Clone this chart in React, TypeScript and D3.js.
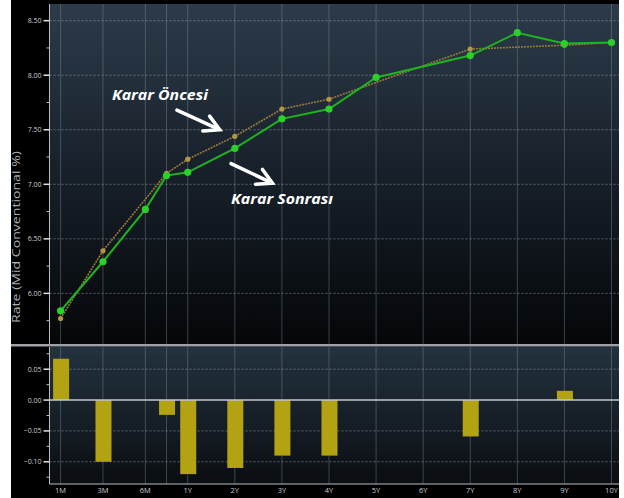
import { useEffect } from 'react'
import * as d3 from 'd3'

// curve tenors (9M has a point but no label)
const tenors = ['1M', '3M', '6M', '9M', '1Y', '2Y', '3Y', '4Y', '5Y', '6Y', '7Y', '8Y', '9Y', '10Y']
const tickLabels = ['1M', '3M', '6M', '1Y', '2Y', '3Y', '4Y', '5Y', '6Y', '7Y', '8Y', '9Y', '10Y']

// Karar Sonrası (after the decision)
const afterValues: (number | null)[] = [5.84, 6.29, 6.77, 7.08, 7.11, 7.33, 7.6, 7.69, 7.98, null, 8.18, 8.39, 8.29, 8.3]
// Karar Öncesi (before the decision)
const beforeValues: (number | null)[] = [5.77, 6.39, null, 7.1, 7.23, 7.44, 7.69, 7.78, null, null, 8.24, null, 8.275, 8.3]
// change panel
const changeValues: (number | null)[] = [0.067, -0.1, null, -0.024, -0.12, -0.11, -0.09, -0.09, null, null, -0.059, null, 0.015, null]

const rateTicks = [6.0, 6.5, 7.0, 7.5, 8.0, 8.5]
const rateMinor = [5.75, 6.25, 6.75, 7.25, 7.75, 8.25]
const changeTicks = [-0.1, -0.05, 0, 0.05]
const changeMinor = [-0.125, -0.075, -0.025, 0.025, 0.075]

const W = 624
const H = 498
const frameLeft = 11
const frameRight = 619
const axisX = 49.5
const topPanel = { top: 4, bottom: 344 }
const botPanel = { top: 347, bottom: 484 }

// month tenors sit a little closer together than the yearly ones
const SHORT_STEP = 0.9
const tickSlot = tickLabels.map((_, i) => (i <= 3 ? i * SHORT_STEP : 3 * SHORT_STEP + (i - 3)))
function slotOf(t: string) {
  const i = tickLabels.indexOf(t)
  if (i >= 0) return tickSlot[i]
  const k = tenors.indexOf(t)
  return (slotOf(tenors[k - 1]) + slotOf(tenors[k + 1])) / 2
}

const x = d3.scaleLinear().domain([0, tickSlot[tickSlot.length - 1]]).range([60.6, 611.5])
const y = d3.scaleLinear().domain([5.536, 8.653]).range([topPanel.bottom, topPanel.top])
const yc = d3.scaleLinear().domain([-0.136, 0.086]).range([botPanel.bottom, botPanel.top])

type Pt = { t: string; v: number }
const toPts = (vals: (number | null)[]): Pt[] =>
  tenors.map((t, i) => ({ t, v: vals[i] as number })).filter(d => d.v != null)

const line = d3
  .line<Pt>()
  .x(d => x(slotOf(d.t)))
  .y(d => y(d.v))

const afterPts = toPts(afterValues)
const beforePts = toPts(beforeValues)
const changePts = toPts(changeValues)

// annotations placed in data space
const notes = [
  { text: 'Karar Öncesi', tx: 1.09, tv: 7.77, ax0: 2.47, av0: 7.68, ax1: 3.38, av1: 7.5 },
  { text: 'Karar Sonrası', tx: 3.62, tv: 6.82, ax0: 3.62, av0: 7.19, ax1: 4.5, av1: 7.01 },
]

function Arrow({ x0, y0, x1, y1 }: { x0: number; y0: number; x1: number; y1: number }) {
  const ang = Math.atan2(y1 - y0, x1 - x0)
  const hl = 17
  const spread = 0.5
  const p1 = [x1 - hl * Math.cos(ang - spread), y1 - hl * Math.sin(ang - spread)]
  const p2 = [x1 - hl * Math.cos(ang + spread), y1 - hl * Math.sin(ang + spread)]
  return (
    <g stroke="#fff" strokeWidth={3.5} strokeLinecap="round" fill="none">
      <line x1={x0} y1={y0} x2={x1 - 2 * Math.cos(ang)} y2={y1 - 2 * Math.sin(ang)} />
      <polyline points={`${p1[0]},${p1[1]} ${x1},${y1} ${p2[0]},${p2[1]}`} strokeLinejoin="miter" />
    </g>
  )
}

export default function App() {
  useEffect(() => {
    document.body.style.margin = '0'
  }, [])

  const gridXs = tenors.map(t => x(slotOf(t)))
  const plotW = frameRight - axisX
  const labelColor = '#c8ccd0'

  return (
    <svg width={W} height={H} style={{ display: 'block', background: '#fff' }} fontFamily="'Open Sans', sans-serif">
      <defs>
        <linearGradient id="topBg" x1="0" y1="0" x2="0" y2="1">
          <stop offset="0%" stopColor="#2c3b4a" />
          <stop offset="55%" stopColor="#151d26" />
          <stop offset="100%" stopColor="#050709" />
        </linearGradient>
        <linearGradient id="botBg" x1="0" y1="0" x2="0" y2="1">
          <stop offset="0%" stopColor="#23323f" />
          <stop offset="100%" stopColor="#0a0d11" />
        </linearGradient>
      </defs>

      <rect x={frameLeft} y={0} width={frameRight - frameLeft} height={H} fill="#000" />
      <rect x={axisX} y={topPanel.top} width={plotW} height={topPanel.bottom - topPanel.top} fill="url(#topBg)" />
      <rect x={axisX} y={botPanel.top} width={plotW} height={botPanel.bottom - botPanel.top} fill="url(#botBg)" />

      {/* vertical grid */}
      {gridXs.map((gx, i) => (
        <g key={i} stroke="#8a949e" strokeOpacity={0.4} strokeWidth={1}>
          <line x1={gx} x2={gx} y1={topPanel.top} y2={topPanel.bottom} />
          <line x1={gx} x2={gx} y1={botPanel.top} y2={botPanel.bottom} />
        </g>
      ))}

      {/* horizontal grid */}
      {rateTicks.map(v => (
        <line key={v} x1={axisX} x2={frameRight} y1={y(v)} y2={y(v)} stroke="#9aa3ad" strokeOpacity={0.55} strokeDasharray="2,2" />
      ))}
      {changeTicks.filter(v => v !== 0).map(v => (
        <line key={v} x1={axisX} x2={frameRight} y1={yc(v)} y2={yc(v)} stroke="#9aa3ad" strokeOpacity={0.55} strokeDasharray="2,2" />
      ))}

      {/* bars */}
      {changePts.map(d => {
        const cx = x(slotOf(d.t)) + 0.5
        const y0 = yc(0)
        const y1 = yc(d.v)
        return <rect key={d.t} x={cx - 8} width={16} y={Math.min(y0, y1)} height={Math.abs(y1 - y0)} fill="#b3a211" />
      })}
      <line x1={axisX} x2={frameRight} y1={yc(0)} y2={yc(0)} stroke="#c4c8cc" strokeWidth={1.5} />

      {/* Karar Öncesi */}
      <path d={line(beforePts) ?? ''} fill="none" stroke="#977a3c" strokeWidth={1.6} strokeDasharray="2,1" />
      {beforePts.map(d => (
        <circle key={d.t} cx={x(slotOf(d.t))} cy={y(d.v)} r={2.6} fill="#b39543" />
      ))}

      {/* Karar Sonrası */}
      <path d={line(afterPts) ?? ''} fill="none" stroke="#1fb41f" strokeWidth={2} />
      {afterPts.map(d => (
        <circle key={d.t} cx={x(slotOf(d.t))} cy={y(d.v)} r={3.6} fill="#2bd02b" />
      ))}

      {/* axes */}
      <line x1={axisX} x2={axisX} y1={topPanel.top} y2={topPanel.bottom} stroke="#b8bcc0" />
      <line x1={axisX} x2={axisX} y1={botPanel.top} y2={botPanel.bottom} stroke="#b8bcc0" />
      <rect x={frameLeft} y={344} width={frameRight - frameLeft} height={2.5} fill="#9ea2a6" />
      <line x1={axisX} x2={frameRight} y1={botPanel.bottom} y2={botPanel.bottom} stroke="#b8bcc0" />

      {rateTicks.map(v => (
        <g key={v}>
          <line x1={axisX - 6} x2={axisX} y1={y(v)} y2={y(v)} stroke="#e0e3e6" strokeWidth={1.5} />
          <text x={axisX - 8} y={y(v)} dy="0.35em" textAnchor="end" fontSize={7} fill={labelColor}>
            {d3.format('.2f')(v)}
          </text>
        </g>
      ))}
      {rateMinor.map(v => (
        <line key={v} x1={axisX - 3} x2={axisX} y1={y(v)} y2={y(v)} stroke="#b8bcc0" />
      ))}
      {changeTicks.map(v => (
        <g key={v}>
          <line x1={axisX - 6} x2={axisX} y1={yc(v)} y2={yc(v)} stroke="#e0e3e6" strokeWidth={1.5} />
          <text x={axisX - 8} y={yc(v)} dy="0.35em" textAnchor="end" fontSize={7} fill={labelColor}>
            {d3.format('.2f')(v)}
          </text>
        </g>
      ))}
      {changeMinor.map(v => (
        <line key={v} x1={axisX - 3} x2={axisX} y1={yc(v)} y2={yc(v)} stroke="#b8bcc0" />
      ))}

      {tickLabels.map(t => (
        <text key={t} x={x(slotOf(t))} y={493} textAnchor="middle" fontSize={7.5} fill={labelColor}>
          {t}
        </text>
      ))}

      <text
        transform="translate(20, 237) rotate(-90)"
        textAnchor="middle"
        fontSize={10.5}
        fill="#a9aeb3"
        textLength={172}
        lengthAdjust="spacingAndGlyphs"
      >
        Rate (Mid Conventional %)
      </text>

      {/* annotations */}
      {notes.map(n => (
        <g key={n.text}>
          <text
            x={x(n.tx)}
            y={y(n.tv)}
            fontSize={15}
            fontWeight={700}
            fontStyle="italic"
            fill="#fff"
            textLength={n.text === 'Karar Öncesi' ? 96 : 102}
            lengthAdjust="spacingAndGlyphs"
          >
            {n.text}
          </text>
          <Arrow x0={x(n.ax0)} y0={y(n.av0)} x1={x(n.ax1)} y1={y(n.av1)} />
        </g>
      ))}
    </svg>
  )
}
